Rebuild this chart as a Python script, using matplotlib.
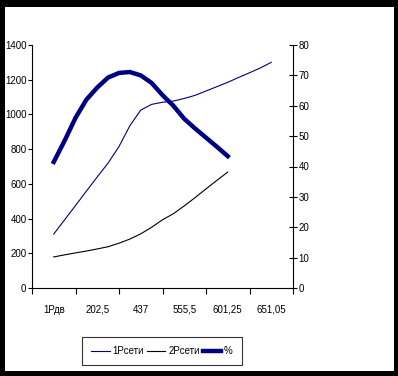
import matplotlib
matplotlib.use("Agg")
import matplotlib.pyplot as plt
from matplotlib import font_manager
from matplotlib.patches import Rectangle

names = {f.name for f in font_manager.fontManager.ttflist}
narrow = 'Liberation Sans Narrow' in names
plt.rcParams['font.family'] = ['Liberation Sans Narrow' if narrow else 'Liberation Sans', 'DejaVu Sans']
fs = 8 if narrow else 7

# категории оси X
categories = ['1Рдв', '202,5', '437', '555,5', '601,25', '651,05']

# точки кривых (в долях категории)
x_p1 = [0, 0.25, 0.5, 0.75, 1.0, 1.25, 1.5, 1.75, 2.0, 2.25, 2.5, 2.75, 3.0,
        3.25, 3.5, 3.75, 4.0, 4.25, 4.5, 4.75, 5.0]
p1 = [311, 393, 475, 558, 640, 720, 815, 935, 1025, 1058, 1070, 1077, 1092,
      1110, 1135, 1160, 1185, 1213, 1240, 1268, 1300]

x_p2 = [0, 0.25, 0.5, 0.75, 1.0, 1.25, 1.5, 1.75, 2.0, 2.25, 2.5, 2.75, 3.0,
        3.25, 3.5, 3.75, 4.0]
p2 = [179, 191, 202, 213, 225, 238, 258, 282, 312, 350, 393, 428, 473,
      521, 571, 620, 668]

x_eff = [0, 0.25, 0.5, 0.75, 1.0, 1.25, 1.5, 1.75, 2.0, 2.25, 2.5, 2.75, 3.0,
         3.25, 3.5, 3.75, 4.0]
eff = [41.5, 48.5, 56, 62, 66, 69.3, 70.8, 71.1, 70, 67.5, 63.5, 60, 55.7,
       52.5, 49.5, 46.5, 43.4]

fig = plt.figure(figsize=(3.98, 3.76), dpi=100, facecolor='black')
# белая область внутри черной рамки
fig.patches.append(Rectangle((5 / 398, 1 - 371 / 376), 389 / 398, 364 / 376,
                             transform=fig.transFigure, facecolor='white',
                             edgecolor='none', zorder=-10))

ax = fig.add_axes([32 / 398, 1 - 288 / 376, 261 / 398, 243 / 376])
ax.set_facecolor('none')
ax2 = ax.twinx()

l1, = ax.plot(x_p1, p1, color='#000080', lw=0.8, label='1Рсети')
l2, = ax.plot(x_p2, p2, color='black', lw=0.8, label='2Рсети')
l3, = ax2.plot(x_eff, eff, color='#000080', lw=3.2, label='%')

ax.set_xlim(-0.5, 5.5)
ax.set_ylim(0, 1400)
ax2.set_ylim(0, 80)
ax.set_yticks(range(0, 1401, 200))
ax2.set_yticks(range(0, 81, 10))

ax.set_xticks(range(len(categories)))
ax.set_xticklabels(categories, va='baseline')
ax.set_xticks([i - 0.5 for i in range(len(categories) + 1)], minor=True)
ax.tick_params(axis='x', which='major', length=0, pad=18, labelsize=fs)
ax.tick_params(axis='x', which='minor', length=4, width=0.8, direction='out')
ax.tick_params(axis='y', length=3, width=0.8, labelsize=fs, pad=1)
ax2.tick_params(axis='y', length=6, width=0.8, direction='inout', labelsize=fs, pad=1)

for a in (ax, ax2):
    a.spines['top'].set_visible(False)
ax.spines['right'].set_visible(False)
ax2.spines['left'].set_visible(False)
ax2.spines['bottom'].set_visible(False)

leg = fig.legend(handles=[l1, l2, l3], loc='center', ncol=3,
                 bbox_to_anchor=(162 / 398, 1 - 351 / 376), fontsize=fs,
                 frameon=True, fancybox=False, handlelength=1.9,
                 handletextpad=0.3, columnspacing=0.3, borderpad=0.9)
leg.get_frame().set_edgecolor('black')
leg.get_frame().set_linewidth(0.8)

fig.savefig('out.png', dpi=100, facecolor='black')
